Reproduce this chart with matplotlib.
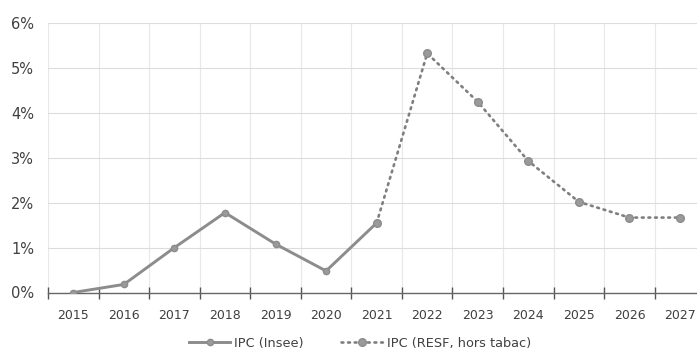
import matplotlib
matplotlib.use("Agg")
import matplotlib.pyplot as plt
from matplotlib.ticker import FixedLocator, NullFormatter

years = ["2015", "2016", "2017", "2018", "2019", "2020", "2021",
         "2022", "2023", "2024", "2025", "2026", "2027"]
ipc_insee = [0.0, 0.18, 1.0, 1.78, 1.08, 0.48, 1.55]
ipc_resf = [1.55, 5.33, 4.25, 2.93, 2.02, 1.67, 1.67]
y_ticks = [0, 1, 2, 3, 4, 5, 6]
y_labels = ["0%", "1%", "2%", "3%", "4%", "5%", "6%"]

fig = plt.figure(figsize=(6.97, 3.56), dpi=100)
ax = fig.add_axes([48 / 697, 63.5 / 356, 657.3 / 697, 269.2 / 356])

x_insee = list(range(len(ipc_insee)))
x_resf = list(range(len(ipc_insee) - 1, len(ipc_insee) - 1 + len(ipc_resf)))

line_col = "#8c8c8c"
ax.plot(x_insee, ipc_insee, color=line_col, lw=2.1, marker="o", ms=4.5,
        mfc="#9a9a9a", mec=line_col, label="IPC (Insee)", zorder=3)
ax.plot(x_resf, ipc_resf, color="#7f7f7f", lw=1.9, ls=(0, (0.7, 1.8)),
        dash_capstyle="round", marker="o", ms=5.5, mfc="#9a9a9a", mec=line_col,
        label="IPC (RESF, hors tabac)", zorder=3)

n = len(years)
ax.set_xlim(-0.5, n - 0.5)
ax.set_ylim(0, 6)

# category boundaries as major ticks (marks + grid), labels at centres via minor ticks
ax.xaxis.set_major_locator(FixedLocator([i - 0.5 for i in range(n + 1)]))
ax.xaxis.set_major_formatter(NullFormatter())
ax.xaxis.set_minor_locator(FixedLocator(list(range(n))))
ax.set_xticklabels(years, minor=True)
ax.tick_params(axis="x", which="major", direction="inout", length=8, width=1,
               color="#555555")
ax.tick_params(axis="x", which="minor", length=0, pad=12, labelsize=9,
               labelcolor="#404040")

ax.set_yticks(y_ticks)
ax.set_yticklabels(y_labels)
ax.tick_params(axis="y", length=0, pad=10, labelsize=10.5, labelcolor="#404040")

ax.grid(axis="y", which="major", color="#dcdcdc", lw=0.8)
ax.grid(axis="x", which="major", color="#e8e8e8", lw=0.8)
ax.set_axisbelow(True)

for s in ["top", "right", "left"]:
    ax.spines[s].set_visible(False)
ax.spines["bottom"].set_color("#666666")
ax.spines["bottom"].set_linewidth(1.0)

fig.legend(loc="center", bbox_to_anchor=(360 / 697, 13 / 356), ncol=2,
           frameon=False, fontsize=9.3, handlelength=3.2, columnspacing=2.9,
           handletextpad=0.3, labelcolor="#404040")

fig.savefig("out.png", dpi=100, facecolor="white")
